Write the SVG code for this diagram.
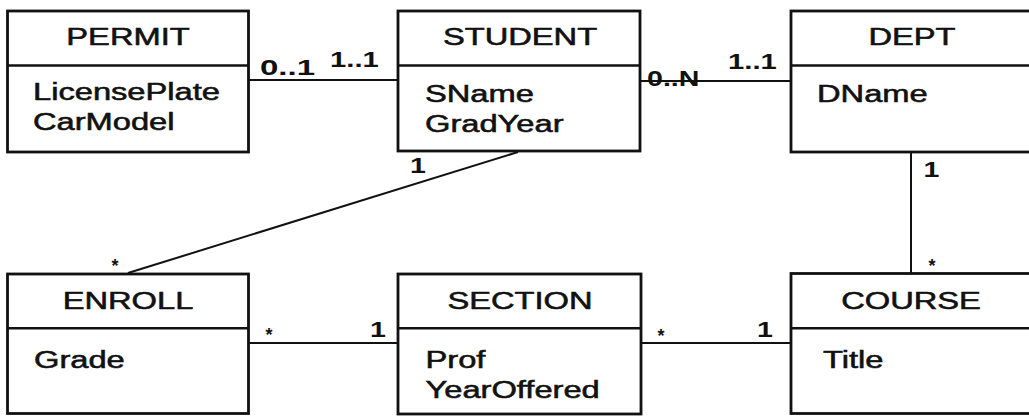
<svg xmlns="http://www.w3.org/2000/svg" width="1029" height="419" viewBox="0 0 1029 419">
  <style>
    .box { fill: #ffffff; stroke: #111111; stroke-width: 2.8; }
    .div { stroke: #111111; stroke-width: 2.6; }
    .conn { stroke: #111111; stroke-width: 2; fill: none; }
    text { font-family: "Liberation Sans", Arial, Helvetica, sans-serif; fill: #111111; }
    .title { font-size: 23.5px; text-anchor: middle; stroke: #111111; stroke-width: 0.55; }
    .attr { font-size: 23.5px; stroke: #111111; stroke-width: 0.55; }
    .mult { font-size: 22px; font-weight: bold; }
    .star { font-size: 18px; font-weight: bold; text-anchor: middle; }
  </style>
  <rect width="1029" height="419" fill="#ffffff"/>

  <!-- associations -->
  <g id="connectors">
    <line class="conn" x1="248" y1="80" x2="398" y2="80"/>
    <line class="conn" x1="640" y1="81" x2="791" y2="81"/>
    <line class="conn" x1="518" y1="152" x2="128" y2="273"/>
    <line class="conn" x1="911" y1="152" x2="911" y2="274"/>
    <line class="conn" x1="248" y1="343" x2="398" y2="343"/>
    <line class="conn" x1="641" y1="343" x2="791" y2="343"/>

    <text class="mult" transform="translate(260 75) scale(1.5 1)">0..1</text>
    <text class="mult" transform="translate(330 67) scale(1.33 1)">1..1</text>
    <text class="mult" transform="translate(647 86) scale(1.3 1)">0..N</text>
    <text class="mult" transform="translate(728 68.5) scale(1.33 1)">1..1</text>
    <text class="mult" transform="translate(410 173) scale(1.3 1)">1</text>
    <text class="mult" transform="translate(923.5 176.5) scale(1.3 1)">1</text>
    <text class="mult" transform="translate(370 336.5) scale(1.3 1)">1</text>
    <text class="mult" transform="translate(757 336.5) scale(1.3 1)">1</text>
    <text class="star" x="115" y="272">*</text>
    <text class="star" x="932" y="272">*</text>
    <text class="star" x="269" y="341">*</text>
    <text class="star" x="661" y="342">*</text>
  </g>

  <g id="permit">
    <rect class="box" x="7.5" y="11" width="241" height="141"/>
    <line class="div" x1="7.5" y1="65.5" x2="248.5" y2="65.5"/>
    <text class="title" transform="translate(128 45) scale(1.39 1)">PERMIT</text>
    <text class="attr" transform="translate(33 100) scale(1.39 1)">LicensePlate</text>
    <text class="attr" transform="translate(33 130) scale(1.39 1)">CarModel</text>
  </g>

  <g id="student">
    <rect class="box" x="398" y="11" width="242" height="140"/>
    <line class="div" x1="398" y1="65.5" x2="640" y2="65.5"/>
    <text class="title" transform="translate(520 45) scale(1.39 1)">STUDENT</text>
    <text class="attr" transform="translate(425 101.5) scale(1.39 1)">SName</text>
    <text class="attr" transform="translate(425 132) scale(1.39 1)">GradYear</text>
  </g>

  <g id="dept">
    <rect class="box" x="791" y="11" width="242" height="141"/>
    <line class="div" x1="791" y1="65.5" x2="1033" y2="65.5"/>
    <text class="title" transform="translate(912 45) scale(1.39 1)">DEPT</text>
    <text class="attr" transform="translate(817 101.5) scale(1.39 1)">DName</text>
  </g>

  <g id="enroll">
    <rect class="box" x="7.5" y="274" width="241" height="139.5"/>
    <line class="div" x1="7.5" y1="328.3" x2="248.5" y2="328.3"/>
    <text class="title" transform="translate(128 309.3) scale(1.39 1)">ENROLL</text>
    <text class="attr" transform="translate(34 367.5) scale(1.39 1)">Grade</text>
  </g>

  <g id="section">
    <rect class="box" x="398" y="274" width="243" height="140"/>
    <line class="div" x1="398" y1="328.3" x2="641" y2="328.3"/>
    <text class="title" transform="translate(520 309.3) scale(1.39 1)">SECTION</text>
    <text class="attr" transform="translate(425.5 367.5) scale(1.39 1)">Prof</text>
    <text class="attr" transform="translate(425.5 397.5) scale(1.39 1)">YearOffered</text>
  </g>

  <g id="course">
    <rect class="box" x="791" y="273.5" width="242" height="140"/>
    <line class="div" x1="791" y1="328.3" x2="1033" y2="328.3"/>
    <text class="title" transform="translate(911 309.3) scale(1.39 1)">COURSE</text>
    <text class="attr" transform="translate(823 367.5) scale(1.39 1)">Title</text>
  </g>
</svg>
